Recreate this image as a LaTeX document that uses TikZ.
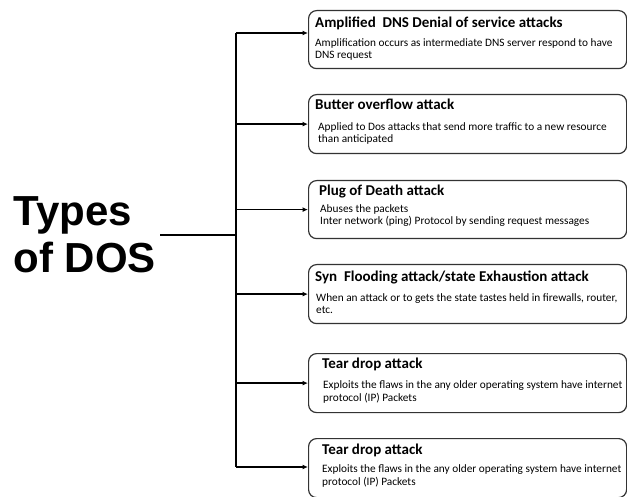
\documentclass[tikz,border=0pt]{standalone}
\usepackage{fontspec}
\setmainfont{Carlito}
\newfontfamily\rootfont{Liberation Sans}
\usetikzlibrary{arrows.meta,calc}

\tikzset{
  box/.style={draw=black!80, line width=1.2pt, rounded corners=8pt,
    minimum width=318pt, minimum height=58pt, anchor=north west, inner sep=0pt},
  ttl/.style={anchor=base west, inner sep=0pt,
    font=\fontsize{15}{18}\selectfont\bfseries},
  % the base anchor of a two-line description sits on its last line
  bdy/.style={anchor=base west, inner sep=0pt, align=left,
    font=\fontsize{11.3}{12.8}\selectfont},
  arr/.style={-{Latex[length=5.5pt,width=5pt]}, line width=1.5pt},
  spine/.style={line width=2.8pt},
  rootlbl/.style={anchor=east, inner sep=0pt, align=left,
    font=\rootfont\bfseries\fontsize{42}{47}\selectfont},
}

\begin{document}
\begin{tikzpicture}[x=1pt,y=-1pt]
\clip (0,0) rectangle (627,497);
\fill[white] (0,0) rectangle (627,497);

% root label
\node[rootlbl] (root) at (156,235) {Types\\of DOS};

% the six attack boxes
\node[box] (b1) at (308,10) {};
\node[box, minimum height=59pt] (b2) at (308,94) {};
\node[box] (b3) at (308,180) {};
\node[box, minimum height=59pt] (b4) at (308,264) {};
\node[box, minimum height=59pt] (b5) at (308,353) {};
\node[box, minimum height=59pt] (b6) at (308,438) {};

% titles
\node[ttl] (t1) at ($(b1.north west)+(7,18)$) {Amplified~ DNS Denial of service attacks};
\node[ttl] (t2) at ($(b2.north west)+(7,16)$) {Butter overflow attack};
\node[ttl] (t3) at ($(b3.north west)+(11,16)$) {Plug of Death attack};
\node[ttl] (t4) at ($(b4.north west)+(7,18)$) {Syn~ Flooding attack/state Exhaustion attack};
\node[ttl] (t5) at ($(b5.north west)+(14,15)$) {Tear drop attack};
\node[ttl] (t6) at ($(b6.north west)+(14,16)$) {Tear drop attack};

% descriptions
\node[bdy] (d1) at ($(b1.north west)+(7,49)$) {Amplification occurs as intermediate DNS server respond to have\\DNS request};
\node[bdy] (d2) at ($(b2.north west)+(10,49)$) {Applied to Dos attacks that send more traffic to a new resource\\than anticipated};
\node[bdy] (d3) at ($(b3.north west)+(12,45)$) {Abuses the packets\\Inter network (ping) Protocol by sending request messages};
\node[bdy] (d4) at ($(b4.north west)+(8,50)$) {When an attack or to gets the state tastes held in firewalls, router,\\etc.};
\node[bdy] (d5) at ($(b5.north west)+(15,48)$) {Exploits the flaws in the any older operating system have internet\\protocol (IP) Packets};
\node[bdy] (d6) at ($(b6.north west)+(14,47)$) {Exploits the flaws in the any older operating system have internet\\protocol (IP) Packets};

% spine and branches
\coordinate (top) at (236,33);
\coordinate (bot) at (236,467);
\draw[spine] (top) -- (bot);
\draw[spine] (root.east) ++(4,0) -- (root.east -| top);
\draw[arr] (top) -- (b1.west |- top);
\foreach \b in {b2,b3,b4,b5} \draw[arr] (\b.west -| top) -- (\b.west);
\draw[arr] (bot) -- (b6.west |- bot);
\end{tikzpicture}
\end{document}
